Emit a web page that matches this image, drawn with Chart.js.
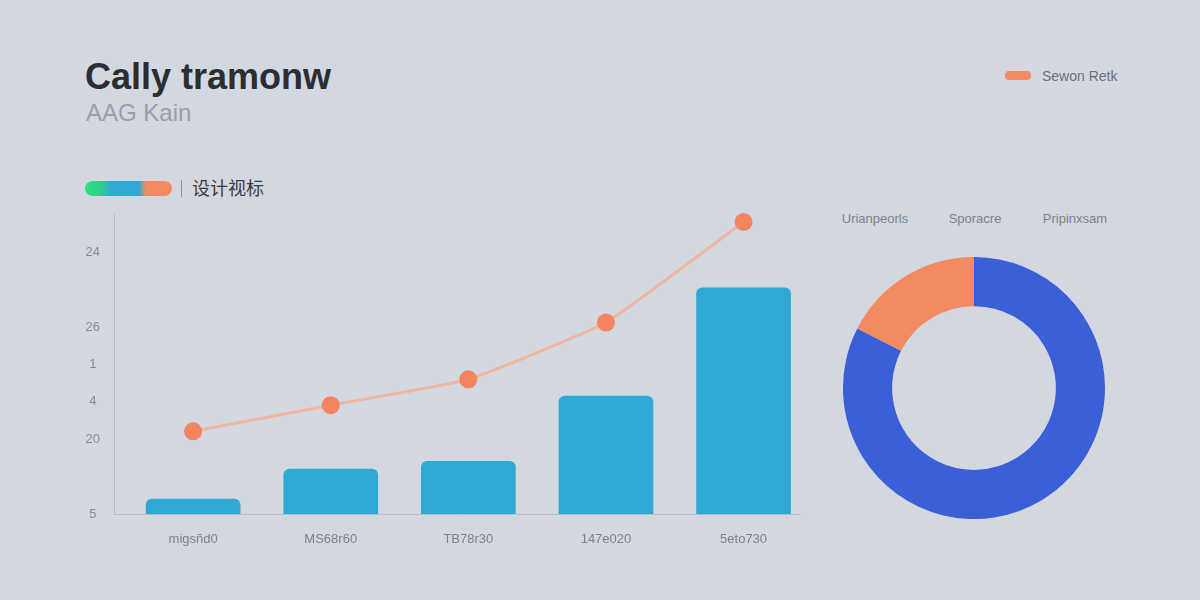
<!DOCTYPE html>
<html>
<head>
<meta charset="utf-8">
<script src="https://cdn.jsdelivr.net/npm/chart.js@4.4.1/dist/chart.umd.min.js"></script>
<style>
  html, body { margin:0; padding:0; }
  body { width:1200px; height:600px; background:#d3d7e0; position:relative; overflow:hidden; font-family:"Liberation Sans", Arial, sans-serif; }
  .abs { position:absolute; white-space:nowrap; }
  #title { left:85px; top:56px; font-size:36px; font-weight:bold; color:#2a2d33; }
  #subtitle { left:86px; top:99px; font-size:24px; color:#9a9ea8; }
  #pill { left:85px; top:181px; width:87px; height:15px; border-radius:8px;
          background:linear-gradient(90deg,#2ee07a 0%,#2fd08a 18%,#2fa8d3 30%,#2fa8d3 62%,#f28a62 70%,#f28a62 100%); }
  #sep { left:181px; top:180px; width:1px; height:17px; background:#8f94a0; }
  #cn { left:192px; top:176px; font-size:18px; color:#3a3d45; font-family:"Noto Sans CJK SC", sans-serif; line-height:22px; }
  #legbox { left:1005px; top:71px; width:26px; height:9px; border-radius:4px; background:#f28a62; }
  #legtxt { left:1042px; top:68px; font-size:14px; color:#6b7080; }
  .dl { top:211px; font-size:13px; color:#7d8290; transform:translateX(-50%); }
  #barWrap { left:72px; top:193px; width:760px; height:367px; }
  #donutWrap { left:843px; top:257px; width:262px; height:262px; }
</style>
</head>
<body>
<div id="title" class="abs">Cally tramonw</div>
<div id="subtitle" class="abs">AAG Kain</div>
<div id="pill" class="abs"></div>
<div id="sep" class="abs"></div>
<div id="cn" class="abs">设计视标</div>
<div id="legbox" class="abs"></div>
<div id="legtxt" class="abs">Sewon Retk</div>
<div class="abs dl" style="left:875px">Urianpeorls</div>
<div class="abs dl" style="left:975px">Sporacre</div>
<div class="abs dl" style="left:1075px">Pripinxsam</div>
<div id="barWrap" class="abs"><canvas id="bar"></canvas></div>
<div id="donutWrap" class="abs"><canvas id="donut"></canvas></div>
<script>
// ---- data ----
const categories = ['migsñd0', 'MS68r60', 'TB78r30', '147e020', '5eto730'];
const barValues = [0.4, 1.2, 1.41, 3.15, 6.05];
const lineValues = [2.21, 2.91, 3.6, 5.12, 7.81];
const yTickLabels = ['5', '', '20', '4', '1', '26', '', '24', ''];
const donutLabels = ['Sporacre', 'Sewon Retk'];
const donutValues = [82.5, 17.5];

const barPoints = barValues.map((v, i) => ({ x: i, y: v }));
const linePoints = lineValues.map((v, i) => ({ x: i, y: v }));

new Chart(document.getElementById('bar'), {
  type: 'bar',
  data: {
    datasets: [
      {
        type: 'line',
        data: linePoints,
        borderColor: '#f0b59e',
        borderWidth: 3,
        tension: 0.12,
        pointRadius: 9,
        pointHoverRadius: 9,
        pointBackgroundColor: '#f4845f',
        pointBorderColor: '#f4845f',
        pointBorderWidth: 0,
        clip: false,
        order: 0
      },
      {
        type: 'bar',
        data: barPoints,
        backgroundColor: '#2fa8d3',
        borderRadius: 6,
        borderSkipped: 'start',
        barThickness: 94,
        order: 1
      }
    ]
  },
  options: {
    responsive: true,
    maintainAspectRatio: false,
    animation: false,
    layout: { padding: { top: 7, right: 32, left: 0, bottom: 0 } },
    plugins: { legend: { display: false }, tooltip: { enabled: false } },
    scales: {
      x: {
        type: 'linear',
        offset: false,
        min: -0.575,
        max: 4.41,
        afterBuildTicks: (s) => { s.ticks = categories.map((_, i) => ({ value: i })); },
        afterFit: (s) => { s.height = 46; },
        ticks: {
          callback: (v) => categories[v] ?? '',
          color: '#7d828e',
          font: { size: 13, family: 'Liberation Sans' },
          padding: 18,
          autoSkip: false,
          maxRotation: 0
        },
        grid: { display: false, drawTicks: false, offset: false },
        border: { display: true, color: 'rgba(175,181,196,0.8)', width: 1 }
      },
      y: {
        min: 0,
        max: 8,
        afterFit: (s) => { s.width = 42; },
        ticks: {
          stepSize: 1,
          callback: (v) => yTickLabels[v] ?? '',
          color: '#858a96',
          font: { size: 13, family: 'Liberation Sans' },
          crossAlign: 'center',
          padding: 14
        },
        grid: { display: false, drawTicks: false },
        border: { display: true, color: 'rgba(175,181,196,0.8)', width: 1 }
      }
    }
  }
});

new Chart(document.getElementById('donut'), {
  type: 'doughnut',
  data: {
    labels: donutLabels,
    datasets: [{
      data: donutValues,
      backgroundColor: ['#3a5fd6', '#f28a62'],
      borderWidth: 0
    }]
  },
  options: {
    responsive: true,
    maintainAspectRatio: false,
    animation: false,
    cutout: '62.5%',
    layout: { padding: 0 },
    plugins: { legend: { display: false }, tooltip: { enabled: false } }
  }
});
</script>
</body>
</html>
